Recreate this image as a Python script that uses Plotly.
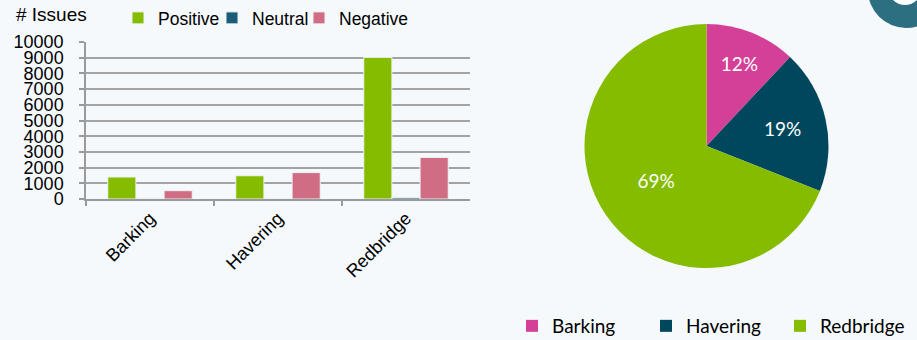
import plotly.graph_objects as go

W, H = 917, 340
BG = "#f5f9fc"

# ---- data ----
boroughs = ["Barking", "Havering", "Redbridge"]
positive = [1400, 1480, 9020]
neutral = [10, 30, 100]
negative = [530, 1680, 2650]

pie_labels = ["Barking", "Havering", "Redbridge"]
pie_values = [12, 19, 69]

y_ticks = list(range(0, 10001, 1000))
y_tick_text = [str(v) for v in y_ticks]

# ---- helpers ----
def px_x(x):
    return x / W

def px_y(y):
    return 1 - y / H

fig = go.Figure()

series = [
    ("Positive", positive, "#86bc00", "legend", 118),
    ("Neutral", neutral, "#1b5c76", "legend3", 212),
    ("Negative", negative, "#d06d85", "legend4", 299),
]
for name, vals, col, leg, _ in series:
    fig.add_trace(go.Bar(
        x=boroughs, y=vals, name=name, showlegend=True,
        marker=dict(color=col, line=dict(color="#eef3f6", width=1)),
        legend=leg,
    ))

fig.add_trace(go.Pie(
    labels=pie_labels, values=pie_values,
    marker=dict(colors=["#d44097", "#00475e", "#86bc00"]),
    sort=False, direction="clockwise", rotation=0,
    textinfo="percent", texttemplate="%{percent:.0%}",
    textfont=dict(color="white", size=19, family="Lato"),
    textposition="inside", insidetextorientation="horizontal",
    domain=dict(x=[px_x(584.5), px_x(828.5)], y=[px_y(268), px_y(24)]),
    legend="legend2", showlegend=True,
))

bar_legend = lambda xpx: dict(
    orientation="h", x=px_x(xpx), y=px_y(18), xanchor="left", yanchor="middle",
    font=dict(size=17.5), itemwidth=30, bgcolor="rgba(0,0,0,0)", visible=True,
)

fig.update_layout(
    width=W, height=H, showlegend=True,
    margin=dict(l=0, r=0, t=0, b=0, autoexpand=False),
    paper_bgcolor=BG, plot_bgcolor=BG,
    barmode="group", bargap=0.34, bargroupgap=0,
    font=dict(family="Liberation Sans, Arial", color="black"),
    xaxis=dict(
        domain=[px_x(86), px_x(470)], automargin=False,
        tickangle=-45, tickfont=dict(size=18),
        showline=True, linecolor="#9a9a9a", linewidth=1.5,
        ticks="outside", ticklen=5, tickcolor="#9a9a9a", tickwidth=1.5,
        tickson="boundaries", showgrid=False,
    ),
    yaxis=dict(
        domain=[px_y(199), px_y(42)], automargin=False,
        range=[0, 10000], tickvals=y_ticks, ticktext=y_tick_text,
        tickfont=dict(size=18),
        showgrid=True, gridcolor="#a3a3a3", gridwidth=1.5,
        showline=True, linecolor="#9a9a9a", linewidth=1.5,
        ticks="outside", ticklen=5, tickcolor="#9a9a9a", tickwidth=1.5,
        ticklabelstandoff=12, zeroline=False,
    ),
    legend=bar_legend(series[0][4]),
    legend3=bar_legend(series[1][4]),
    legend4=bar_legend(series[2][4]),
    legend2=dict(
        orientation="h", x=px_x(512), y=px_y(326), xanchor="left", yanchor="middle",
        font=dict(size=19, family="Lato"), itemwidth=30,
        entrywidth=89, entrywidthmode="pixels",
        bgcolor="rgba(0,0,0,0)",
    ),
    annotations=[dict(
        text="# Issues", x=px_x(14), y=px_y(15), xref="paper", yref="paper",
        xanchor="left", yanchor="middle", showarrow=False,
        font=dict(size=19),
    )],
    shapes=[
        dict(type="circle", xref="paper", yref="paper",
             x0=px_x(906 - 38), x1=px_x(906 + 38), y0=px_y(-10 + 38), y1=px_y(-10 - 38),
             fillcolor="#2b6f80", line=dict(width=0), layer="above"),
        dict(type="circle", xref="paper", yref="paper",
             x0=px_x(905 - 17), x1=px_x(905 + 17), y0=px_y(-12 + 17), y1=px_y(-12 - 17),
             fillcolor="#ffffff", line=dict(width=0), layer="above"),
    ],
)

fig.write_html("out.html")
